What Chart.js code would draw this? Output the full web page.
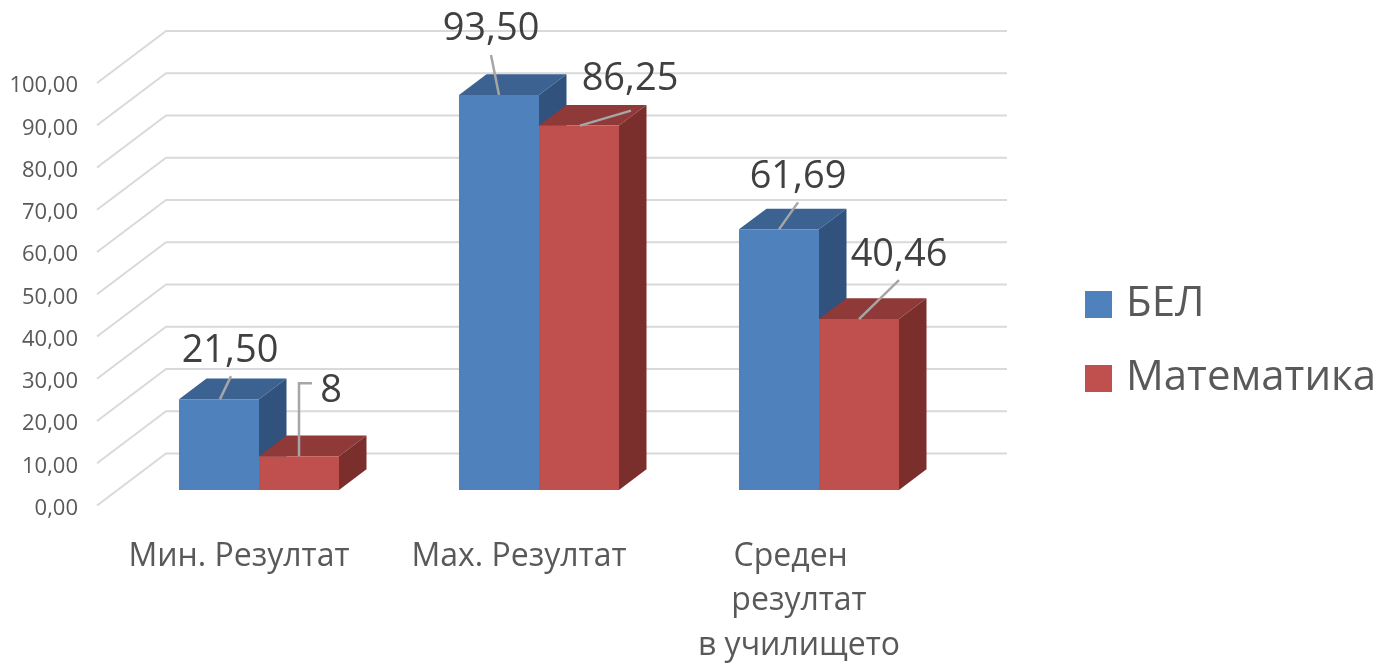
<!DOCTYPE html>
<html>
<head>
<meta charset="utf-8">
<style>
  html, body { margin: 0; padding: 0; background: #fff; overflow: hidden; }
  #wrap { width: 1379px; height: 663px; }
</style>
<script src="https://cdn.jsdelivr.net/npm/chart.js@4/dist/chart.umd.min.js"></script>
</head>
<body>
<div id="wrap"><canvas id="chart" width="1379" height="663"></canvas></div>
<script>
const categories = [['Мин. Резултат'], ['Мах. Резултат'], ['Среден  ', 'резултат', 'в училището']];
const belValues = [21.5, 93.5, 61.69];
const mathValues = [8, 86.25, 40.46];
const belText = ['21,50', '93,50', '61,69'];
const mathText = ['8', '86,25', '40,46'];

const textColor = '#595959';
const fontName = '"Open Sans", sans-serif';

// bar depth and the wall depth, in pixels
const barDepth = [27.5, -20.7];
const wallBack = [47, -36.5];
const wallFront = [-22, 15.5];
const wallRightEnd = 1007;

// label spots relative to the bar's top centre: [label x, label y, leader points...]
const belLeaders = [
    { label: [11, -48], line: [[1, 0], [12, -23]] },
    { label: [-8, -66], line: [[0, 0], [-8, -40]] },
    { label: [19, -52], line: [[0, 0], [19, -27]] }
];
const mathLeaders = [
    { label: [32, -65], line: [[0, 0], [0, -73], [13, -73]] },
    { label: [51, -46], line: [[1, 0], [52, -15]] },
    { label: [40, -64], line: [[0, 0], [40, -39]] }
];

function shade(ctx, pts, color) {
    ctx.fillStyle = color;
    ctx.beginPath();
    pts.forEach((p, i) => i ? ctx.lineTo(p[0], p[1]) : ctx.moveTo(p[0], p[1]));
    ctx.closePath();
    ctx.fill();
}

const fake3d = {
    id: 'fake3d',
    beforeDatasetsDraw(chart) {
        const ctx = chart.ctx;
        const y = chart.scales.y;
        ctx.save();

        // floor + back wall lines
        ctx.strokeStyle = '#d9d9d9';
        ctx.lineWidth = 2;
        ctx.lineJoin = 'round';
        y.ticks.forEach(t => {
            const py = y.getPixelForValue(t.value);
            const left = chart.chartArea.left;
            ctx.beginPath();
            ctx.moveTo(left + wallFront[0], py + wallFront[1]);
            ctx.lineTo(left + wallBack[0], py + wallBack[1]);
            ctx.lineTo(wallRightEnd, py + wallBack[1]);
            ctx.stroke();
        });

        // tops and sides, blue first so red sits in front of it
        const shades = [['#3b6291', '#30527c'], ['#8f3a38', '#7a2f2d']];
        [0, 1].forEach(ds => {
            chart.getDatasetMeta(ds).data.forEach(bar => {
                const l = bar.x - bar.width / 2, r = bar.x + bar.width / 2;
                const dx = barDepth[0], dy = barDepth[1];
                shade(ctx, [[l, bar.y], [l + dx, bar.y + dy], [r + dx, bar.y + dy], [r, bar.y]], shades[ds][0]);
                shade(ctx, [[r, bar.y], [r + dx, bar.y + dy], [r + dx, bar.base + dy], [r, bar.base]], shades[ds][1]);
            });
        });
        ctx.restore();
    },
    afterDatasetsDraw(chart) {
        const ctx = chart.ctx;
        ctx.save();
        [[belLeaders, belText], [mathLeaders, mathText]].forEach((set, ds) => {
            chart.getDatasetMeta(ds).data.forEach((bar, i) => {
                const item = set[0][i];
                ctx.strokeStyle = '#a6a6a6';
                ctx.lineWidth = 2.5;
                ctx.beginPath();
                item.line.forEach((p, k) => {
                    if (k) ctx.lineTo(bar.x + p[0], bar.y + p[1]);
                    else ctx.moveTo(bar.x + p[0], bar.y + p[1]);
                });
                ctx.stroke();
                ctx.fillStyle = '#404040';
                ctx.font = '38px ' + fontName;
                ctx.textAlign = 'center';
                ctx.textBaseline = 'middle';
                ctx.fillText(set[1][i], bar.x + item.label[0], bar.y + item.label[1]);
            });
        });
        ctx.restore();
    }
};

new Chart(document.getElementById('chart'), {
    type: 'bar',
    data: {
        labels: categories,
        datasets: [
            { label: 'БЕЛ', data: belValues, backgroundColor: '#4f81bd', borderWidth: 0 },
            { label: 'Математика', data: mathValues, backgroundColor: '#c0504d', borderWidth: 0 }
        ]
    },
    options: {
        responsive: false,
        animation: false,
        categoryPercentage: 160 / 280,
        barPercentage: 1,
        layout: { padding: { top: 20, bottom: 0, left: 0, right: 0 } },
        scales: {
            x: {
                grid: { display: false },
                border: { display: false },
                afterFit(s) { s.height = 173; },
                ticks: {
                    color: textColor,
                    font: { family: fontName, size: 32, lineHeight: 1.4 },
                    padding: 36,
                    labelOffset: -20,
                    maxRotation: 0,
                    autoSkip: false
                }
            },
            y: {
                min: 0,
                max: 100,
                grid: { display: false },
                border: { display: false },
                afterFit(s) { s.width = 119; },
                ticks: {
                    stepSize: 10,
                    color: textColor,
                    font: { family: fontName, size: 22 },
                    padding: 33,
                    labelOffset: 18.5,
                    callback: v => v.toFixed(2).replace('.', ',')
                }
            },
            // empty axes, they only keep the plot away from the top and the legend
            gapTop: {
                type: 'linear',
                position: 'top',
                grid: { display: false },
                border: { display: false },
                ticks: { display: false },
                afterFit(s) { s.height = 47.5; }
            },
            gap: {
                position: 'right',
                grid: { display: false },
                border: { display: false },
                ticks: { display: false },
                afterFit(s) { s.width = 101; }
            }
        },
        plugins: {
            tooltip: { enabled: false },
            legend: {
                position: 'right',
                maxWidth: 319,
                labels: {
                    // small box with a thick border, keeps the text close to the square
                    boxWidth: 13,
                    boxHeight: 13,
                    padding: 32,
                    color: textColor,
                    font: { family: fontName, size: 42 },
                    generateLabels(chart) {
                        return Chart.defaults.plugins.legend.labels.generateLabels(chart).map(l => ({
                            ...l,
                            strokeStyle: l.fillStyle,
                            lineWidth: 14
                        }));
                    }
                }
            }
        }
    },
    plugins: [fake3d]
});
</script>
</body>
</html>
